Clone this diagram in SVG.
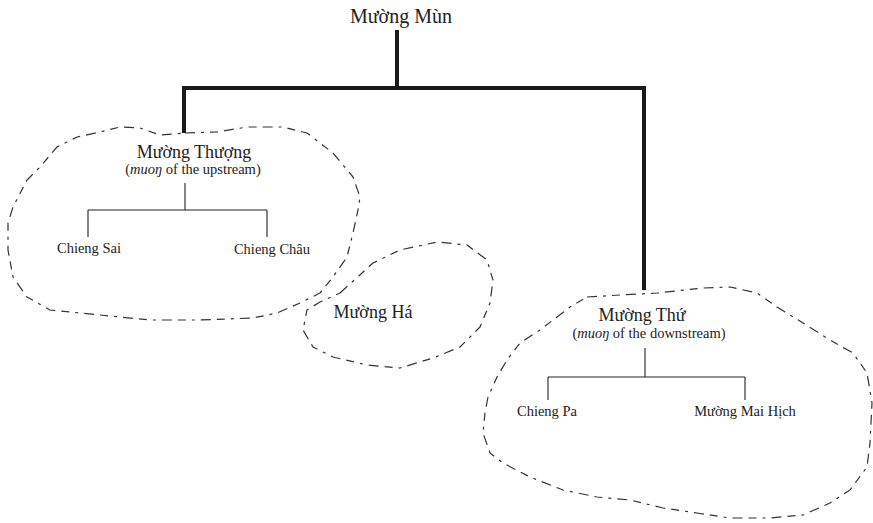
<svg xmlns="http://www.w3.org/2000/svg" width="873" height="523" viewBox="0 0 873 523">
<style>
text{font-family:"Liberation Serif","Times New Roman",serif;fill:#222;text-anchor:middle}
.t1{font-size:20px}.t2{font-size:18px}.t3{font-size:14.5px}.t4{font-size:14.5px}
.thick{stroke:#1a1a1a;stroke-width:4;fill:none;stroke-linecap:square}
.thin{stroke:#222;stroke-width:1.1;fill:none}
.blob{stroke:#333;stroke-width:1.2;fill:none;stroke-dasharray:10 6 3 6 8 6;stroke-linejoin:round}
</style>
<rect width="873" height="523" fill="#fff"/>
<g id="blobs">
<path class="blob" d="M185,133 L217,132 L247,127 L283,127 L307,133 L333,153 L353,177 L360,197 L358,210 L353,233 L347,257 L333,277 L320,293 L300,303 L277,313 L253,318 L200,320 L150,320 L100,315 L50,310 L27,297 L13,277 L8,250 L8,223 L13,207 L27,180 L40,167 L57,147 L77,137 L100,132 L120,127 L140,128 L160,135 Z"/>
<path class="blob" d="M340,293 L373,263 L400,250 L437,242 L467,245 L487,260 L493,280 L490,303 L480,327 L460,347 L433,358 L400,368 L367,365 L333,357 L313,347 L303,330 L307,310 L320,302 Z"/>
<path class="blob" d="M587,297 L620,295 L657,293 L703,288 L730,287 L757,293 L777,307 L803,323 L830,340 L853,353 L867,373 L872,403 L870,443 L867,467 L850,490 L830,503 L803,515 L770,518 L730,518 L697,513 L663,508 L630,500 L597,497 L563,490 L530,477 L503,463 L490,453 L483,433 L485,413 L488,397 L497,377 L507,360 L520,343 L540,330 L557,317 L570,307 Z"/>
</g>
<g id="connectors">
<path class="thick" d="M397,32 V88 M184,88 H644 M184,88 V131 M644,88 V288"/>
<path class="thin" d="M185,183 V210 M88,210 H267 M88,210 V237 M267,210 V237"/>
<path class="thin" d="M645,348 V377 M548,377 H745 M548,377 V400 M745,377 V400"/>
</g>
<g id="n-muong-mun"><text class="t1" x="401" y="23">Mường Mùn</text></g>
<g id="n-muong-thuong"><text class="t2" x="194" y="158">Mường Thượng</text><text class="t3" x="193" y="174">(<tspan font-style="italic">muoŋ</tspan> of the upstream)</text></g>
<g id="n-chieng-sai"><text class="t4" x="89" y="253">Chieng Sai</text></g>
<g id="n-chieng-chau"><text class="t4" x="272" y="254">Chieng Châu</text></g>
<g id="n-muong-ha"><text class="t2" x="373" y="318">Mường Há</text></g>
<g id="n-muong-thu"><text class="t2" x="642" y="321">Mường Thứ</text><text class="t3" x="649" y="338">(<tspan font-style="italic">muoŋ</tspan> of the downstream)</text></g>
<g id="n-chieng-pa"><text class="t4" x="547" y="416">Chieng Pa</text></g>
<g id="n-muong-mai-hich"><text class="t4" x="745" y="416">Mường Mai Hịch</text></g>
</svg>
